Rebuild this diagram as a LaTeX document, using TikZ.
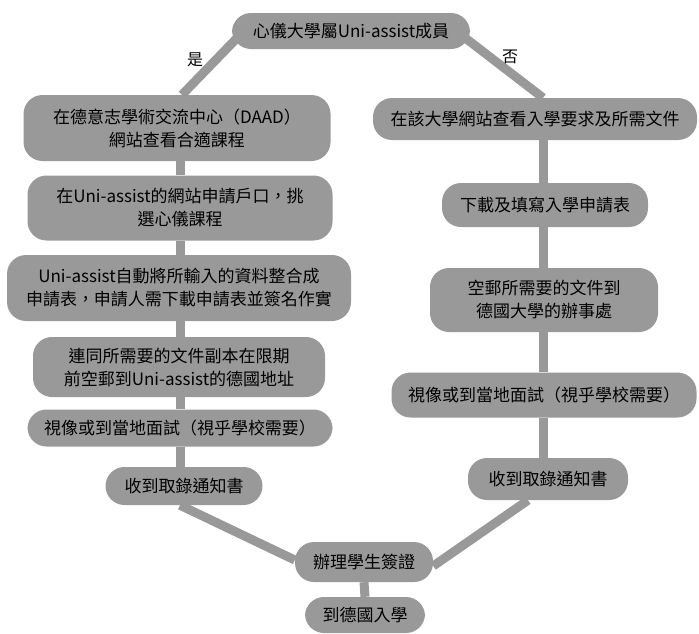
\documentclass[tikz,border=0pt]{standalone}
\usepackage{fontspec}
\setmainfont{Noto Sans CJK TC}
\usetikzlibrary{backgrounds}
\begin{document}
\begin{tikzpicture}[x=1pt,y=-1pt,
  box/.style={draw=none,fill=black!40,rounded corners=19pt,align=center,
    font=\fontsize{17}{23}\selectfont,text=black,inner sep=0pt},
  conn/.style={draw=black!40,line width=9pt},
  lbl/.style={font=\fontsize{16}{18}\selectfont,text=black}]
\useasboundingbox (0,0) rectangle (699,633);
% nodes
\node[box,minimum width=238pt,minimum height=36pt] (top) at (351,31) {心儀大學屬Uni-assist成員};
\node[lbl] (yes) at (195,60) {是};
\node[lbl] (no) at (510,57) {否};
\node[box,minimum width=307pt,minimum height=66pt] (l1) at (177,128) {在德意志學術交流中心（DAAD）\\網站查看合適課程};
\node[box,minimum width=305pt,minimum height=65pt] (l2) at (180,208) {在Uni-assist的網站申請戶口，挑\\選心儀課程};
\node[box,minimum width=344pt,minimum height=66pt] (l3) at (179,288) {Uni-assist自動將所輸入的資料整合成\\申請表，申請人需下載申請表並簽名作實};
\node[box,minimum width=292pt,minimum height=60pt] (l4) at (179,367) {連同所需要的文件副本在限期\\前空郵到Uni-assist的德國地址};
\node[box,minimum width=305pt,minimum height=37pt] (l5) at (180,428) {視像或到當地面試（視乎學校需要）};
\node[box,minimum width=157pt,minimum height=38pt] (l6) at (184,486) {收到取錄通知書};
\node[box,minimum width=324pt,minimum height=42pt] (r1) at (535,119) {在該大學網站查看入學要求及所需文件};
\node[box,minimum width=206pt,minimum height=44pt] (r2) at (545,205) {下載及填寫入學申請表};
\node[box,minimum width=228pt,minimum height=64pt] (r3) at (544,300) {空郵所需要的文件到\\德國大學的辦事處};
\node[box,minimum width=305pt,minimum height=45pt] (r4) at (544,395) {視像或到當地面試（視乎學校需要）};
\node[box,minimum width=160pt,minimum height=42pt] (r5) at (548,479) {收到取錄通知書};
\node[box,minimum width=138pt,minimum height=40pt] (visa) at (364,562) {辦理學生簽證};
\node[box,minimum width=120pt,minimum height=36pt] (go) at (365,615) {到德國入學};
% connectors behind
\begin{pgfonlayer}{background}
\draw[conn] ([xshift=12pt]top.west) -- ([xshift=5pt]l1.north);
\draw[conn] ([xshift=-14pt]top.east) -- ([xshift=8pt]r1.north);
\draw[conn] ([xshift=3pt]l1.south) -- (l2.north);
\draw[conn] (l2.south) -- (l2.south |- l3.north);
\draw[conn] (l2.south |- l3.south) -- (l2.south |- l4.north);
\draw[conn] (l2.south |- l4.south) -- (l2.south |- l5.north);
\draw[conn] (l2.south |- l5.south) -- (l2.south |- l6.north);
\draw[conn] ([xshift=-4pt]l6.south) -- ([yshift=2pt]visa.west);
\draw[conn] ([xshift=8pt]r1.south) -- ([xshift=8pt]r1.south |- r2.north);
\draw[conn] ([xshift=8pt]r1.south |- r2.south) -- ([xshift=8pt]r1.south |- r3.north);
\draw[conn] ([xshift=8pt]r1.south |- r3.south) -- ([xshift=8pt]r1.south |- r4.north);
\draw[conn] ([xshift=8pt]r1.south |- r4.south) -- ([xshift=8pt]r1.south |- r5.north);
\draw[conn] ([xshift=-20pt]r5.south) -- ([yshift=-4pt]visa.east);
\draw[conn] (visa.south) -- (go.north);
\end{pgfonlayer}
\end{tikzpicture}
\end{document}
